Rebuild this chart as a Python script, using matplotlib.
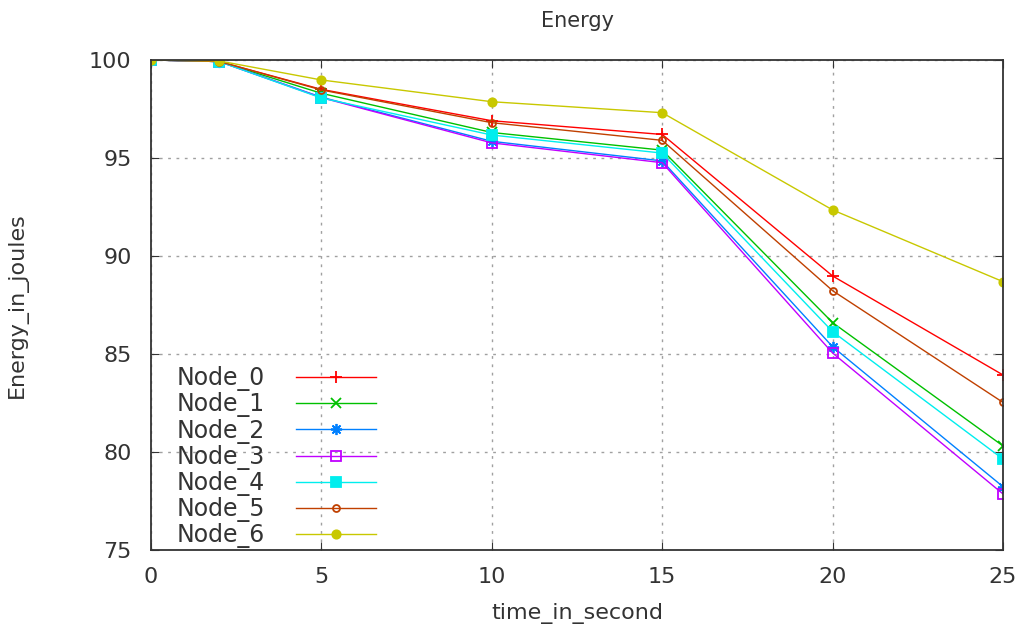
import matplotlib
matplotlib.use('Agg')
import matplotlib.pyplot as plt

time = [0, 2, 5, 10, 15, 20, 25]
node_0 = [100, 99.92, 98.50, 96.90, 96.20, 88.98, 83.93]
node_1 = [100, 99.92, 98.30, 96.30, 95.40, 86.60, 80.31]
node_2 = [100, 99.92, 98.10, 95.85, 94.85, 85.37, 78.23]
node_3 = [100, 99.92, 98.08, 95.77, 94.76, 85.05, 77.86]
node_4 = [100, 99.92, 98.06, 96.17, 95.25, 86.14, 79.64]
node_5 = [100, 99.92, 98.47, 96.80, 95.90, 88.23, 82.53]
node_6 = [100, 99.95, 98.98, 97.87, 97.31, 92.35, 88.69]

names = ['Node_0', 'Node_1', 'Node_2', 'Node_3', 'Node_4', 'Node_5', 'Node_6']
series = [node_0, node_1, node_2, node_3, node_4, node_5, node_6]
colors = ['#ff0000', '#00c000', '#0080ff', '#c000ff', '#00eeee', '#c04000', '#c8c800']
markers = ['+', 'x', (8, 2, 0), 's', 's', 'o', 'o']
filled = [True, True, True, False, True, False, True]
sizes = [8, 7, 8, 7, 7, 5, 6]

fig = plt.figure(figsize=(10.19, 6.28), dpi=100)
ax = fig.add_axes([0.1482, 0.1242, 0.8361, 0.7803])

for name, y, c, m, f, s in zip(names, series, colors, markers, filled, sizes):
    ax.plot(time, y, color=c, lw=1.0, marker=m, ms=s,
            markerfacecolor=c if f else 'none', markeredgecolor=c,
            markeredgewidth=1.3, label=name)

ax.set_xlim(0, 25)
ax.set_ylim(75, 100)
ax.set_xticks([0, 5, 10, 15, 20, 25])
ax.set_yticks([75, 80, 85, 90, 95, 100])
ax.grid(True, color='#a0a0a0', linestyle=(0, (2, 4)), lw=1.0)
ax.tick_params(direction='in', top=True, right=True, length=6,
               labelsize=16, colors='#333333', pad=14)
ax.tick_params(axis='x', pad=12)
for sp in ax.spines.values():
    sp.set_color('#333333')
    sp.set_linewidth(1.3)

ax.set_title('Energy', fontsize=15, color='#333333', pad=24)
ax.set_xlabel('time_in_second', fontsize=16, color='#333333', labelpad=12)
ax.set_ylabel('Energy_in_joules', fontsize=16, color='#333333', labelpad=44)

leg = ax.legend(loc='lower left', bbox_to_anchor=(0.005, -0.04), frameon=False,
                markerfirst=False, fontsize=17, handlelength=3.4,
                labelspacing=0.05, handletextpad=1.3)
for t in leg.get_texts():
    t.set_color('#333333')

fig.savefig('out.png', dpi=100)
